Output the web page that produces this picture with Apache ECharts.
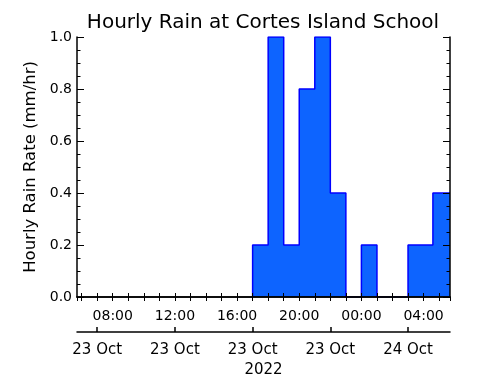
<!DOCTYPE html>
<html>
<head>
<meta charset="utf-8">
<script src="https://cdn.jsdelivr.net/npm/echarts@6/dist/echarts.min.js"></script>
<style>html,body{margin:0;padding:0;background:#fff}#c{width:500px;height:375px}</style>
</head>
<body>
<div id="c"></div>
<script>
// ---- data (hours counted from 23 Oct 2022 00:00) ----
const binEdges = [17, 18, 19, 20, 21, 22, 23, 24, 25, 27, 28.6];
const rainRates = [0.2, 1.0, 0.2, 0.8, 1.0, 0.4, 0.0, 0.2, 0.0, 0.2, 0.4];
const seriesEndHour = 29.7;
const axisStartHour = 5.7;
const axisEndHour = 29.7;
const yTicks = [0.0, 0.2, 0.4, 0.6, 0.8, 1.0];
const dateTickHours = [7, 12, 17, 22, 27];
const dateTickLabels = ['23 Oct', '23 Oct', '23 Oct', '23 Oct', '24 Oct'];
const yearLabel = '2022';
const titleText = 'Hourly Rain at Cortes Island School';
const yName = 'Hourly Rain Rate (mm/hr)';

const base = new Date(2022, 9, 23, 0, 0, 0).getTime();
const HOUR = 3600 * 1000;
const toTime = h => base + h * HOUR;

const pts = [[toTime(binEdges[0]), 0]];
binEdges.forEach((e, i) => pts.push([toTime(e), rainRates[i]]));
pts.push([toTime(seriesEndHour), rainRates[rainRates.length - 1]]);

// category scaffold for the date axis (6-minute steps)
const STEP = 0.1;
const nCat = Math.round((axisEndHour - axisStartHour) / STEP) + 1;
const dateCats = [];
for (let i = 0; i < nCat; i++) dateCats.push(String(i));
const dateIdx = {};
dateTickHours.forEach((h, k) => { dateIdx[Math.round((h - axisStartHour) / STEP)] = dateTickLabels[k]; });

const FONT = 'DejaVu Sans';
const pad = n => (n < 10 ? '0' : '') + n;

const chart = echarts.init(document.getElementById('c'), null, {renderer: 'canvas'});
chart.setOption({
  backgroundColor: '#fff',
  animation: false,
  title: {
    text: titleText, left: 258, top: 8, textAlign: 'center',
    textStyle: {fontFamily: FONT, fontSize: 20, fontWeight: 'normal', color: '#000'}
  },
  grid: {left: 77, right: 50, top: 37, bottom: 78, containLabel: false, outerBoundsMode: 'none'},
  xAxis: [
    {
      type: 'time', position: 'bottom', min: toTime(axisStartHour), max: toTime(axisEndHour),
      minInterval: HOUR, maxInterval: HOUR, z: 10,
      axisLine: {lineStyle: {color: '#000', width: 1.5}},
      axisTick: {inside: true, length: 4, lineStyle: {color: '#000'}},
      splitLine: {show: false},
      axisLabel: {
        margin: 12, color: '#000', fontFamily: FONT, fontSize: 14, showMinLabel: false, showMaxLabel: false,
        formatter: v => { const d = new Date(v); return (d.getMinutes() === 0 && d.getHours() % 4 === 0) ? pad(d.getHours()) + ':00' : ''; }
      }
    },
    {
      type: 'time', position: 'top', min: toTime(axisStartHour), max: toTime(axisEndHour),
      minInterval: HOUR, maxInterval: HOUR, z: 10,
      axisLine: {lineStyle: {color: '#000', width: 1.5}},
      axisTick: {inside: true, length: 4, lineStyle: {color: '#000'}},
      splitLine: {show: false}, axisLabel: {show: false}
    },
    {
      type: 'category', position: 'bottom', offset: 35, data: dateCats, boundaryGap: false,
      axisLine: {lineStyle: {color: '#000', width: 1.5}},
      axisTick: {inside: true, length: 5, interval: i => dateIdx[i] !== undefined, lineStyle: {color: '#000', width: 1.5}},
      axisLabel: {margin: 11, interval: i => dateIdx[i] !== undefined, formatter: (v, i) => dateIdx[i] || '',
        color: '#000', fontFamily: FONT, fontSize: 15},
      name: yearLabel, nameLocation: 'middle', nameGap: 30,
      nameTextStyle: {color: '#000', fontFamily: FONT, fontSize: 15}
    }
  ],
  yAxis: [
    {
      type: 'value', position: 'left', min: yTicks[0], max: yTicks[yTicks.length - 1], interval: 0.2, z: 10,
      axisLine: {show: true, lineStyle: {color: '#000', width: 1.5}},
      axisTick: {show: true, inside: true, length: 7, lineStyle: {color: '#000'}},
      minorTick: {show: true, splitNumber: 4, length: 3.5, lineStyle: {color: '#000'}},
      splitLine: {show: false},
      axisLabel: {margin: 5, color: '#000', fontFamily: FONT, fontSize: 14, formatter: v => v.toFixed(1)},
      name: yName, nameLocation: 'middle', nameGap: 38, nameRotate: 90,
      nameTextStyle: {color: '#000', fontFamily: FONT, fontSize: 16.5}
    },
    {
      type: 'value', position: 'right', min: yTicks[0], max: yTicks[yTicks.length - 1], interval: 0.2, z: 10,
      axisLine: {show: true, lineStyle: {color: '#000', width: 1.5}},
      axisTick: {show: true, inside: true, length: 7, lineStyle: {color: '#000'}},
      minorTick: {show: true, splitNumber: 4, length: 3.5, lineStyle: {color: '#000'}},
      splitLine: {show: false}, axisLabel: {show: false}
    }
  ],
  series: [{
    type: 'line', xAxisIndex: 0, yAxisIndex: 0, step: 'end', data: pts, symbol: 'none',
    lineStyle: {color: '#0000ff', width: 1.5},
    areaStyle: {color: '#0d64ff', opacity: 1}
  }]
});
</script>
</body>
</html>
